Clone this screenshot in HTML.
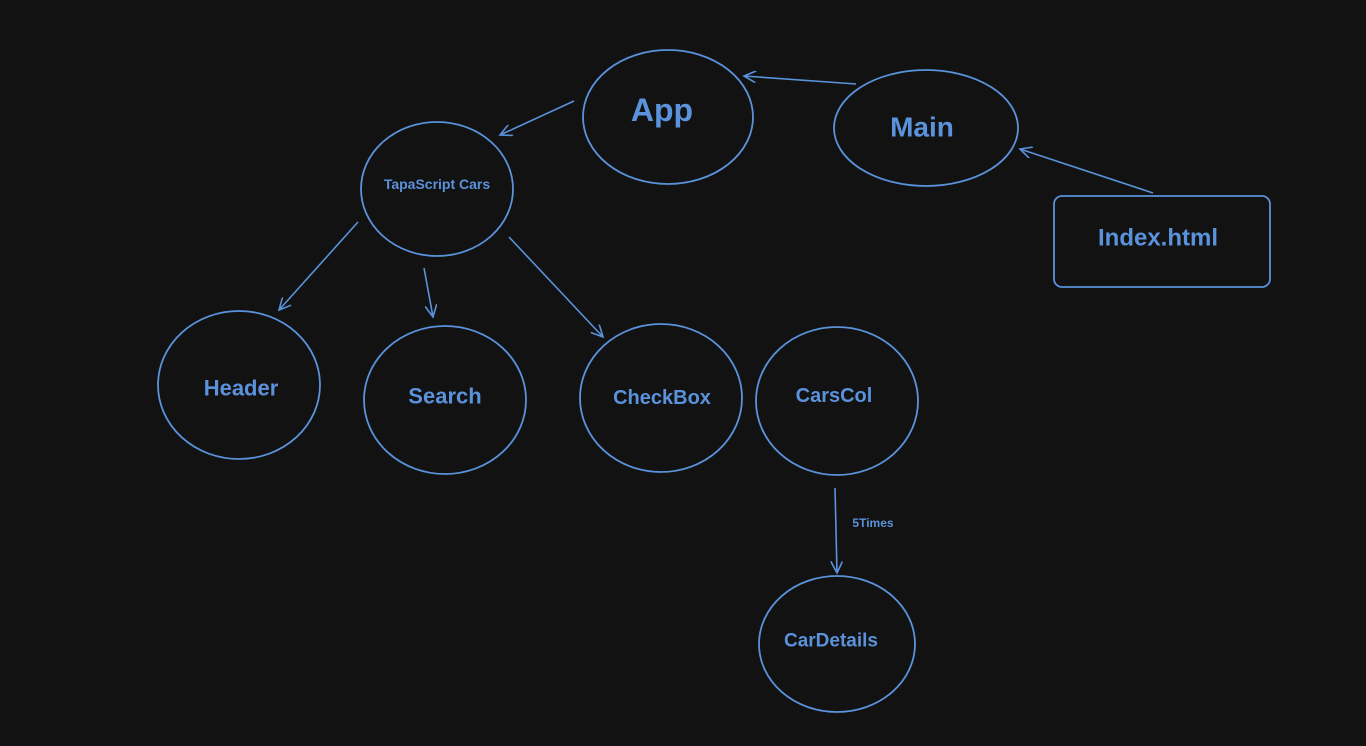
<!DOCTYPE html>
<html><head><meta charset="utf-8"><style>
html,body{margin:0;padding:0;background:#121212;}
svg{display:block}
text{font-family:"Liberation Sans",sans-serif;fill:#5a92db;text-anchor:middle;dominant-baseline:central;font-weight:bold}
</style></head><body>
<svg width="1366" height="746" viewBox="0 0 1366 746">
<defs><marker id="a" markerWidth="14" markerHeight="12" refX="12" refY="6" orient="auto" markerUnits="userSpaceOnUse">
<path d="M0,0 L12,6 L0,12" fill="none" stroke="#5a92db" stroke-width="1.6"/></marker></defs>
<g fill="none" stroke="#5a92db" stroke-width="1.8">
<ellipse cx="668" cy="117" rx="85" ry="67"/>
<ellipse cx="926" cy="128" rx="92" ry="58"/>
<ellipse cx="437" cy="189" rx="76" ry="67"/>
<rect x="1054" y="196" width="216" height="91" rx="8"/>
<ellipse cx="239" cy="385" rx="81" ry="74"/>
<ellipse cx="445" cy="400" rx="81" ry="74"/>
<ellipse cx="661" cy="398" rx="81" ry="74"/>
<ellipse cx="837" cy="401" rx="81" ry="74"/>
<ellipse cx="837" cy="644" rx="78" ry="68"/>
</g>
<g stroke="#5a92db" stroke-width="1.6" fill="none" marker-end="url(#a)">
<line x1="856" y1="84" x2="744" y2="76"/>
<line x1="1153" y1="193" x2="1020" y2="149"/>
<line x1="574" y1="101" x2="500" y2="135"/>
<line x1="358" y1="222" x2="279" y2="310"/>
<line x1="424" y1="268" x2="433" y2="317"/>
<line x1="509" y1="237" x2="603" y2="337"/>
<line x1="835" y1="488" x2="837" y2="573"/>
</g>
<text x="662" y="110" font-size="32">App</text>
<text x="922" y="127" font-size="28">Main</text>
<text x="437" y="184" font-size="14" font-weight="normal">TapaScript Cars</text>
<text x="1158" y="238" font-size="24">Index.html</text>
<text x="241" y="388" font-size="22">Header</text>
<text x="445" y="396" font-size="22">Search</text>
<text x="662" y="398" font-size="20">CheckBox</text>
<text x="834" y="396" font-size="20">CarsCol</text>
<text x="831" y="641" font-size="19">CarDetails</text>
<text x="873" y="523" font-size="12" font-weight="normal">5Times</text>
</svg>
</body></html>
